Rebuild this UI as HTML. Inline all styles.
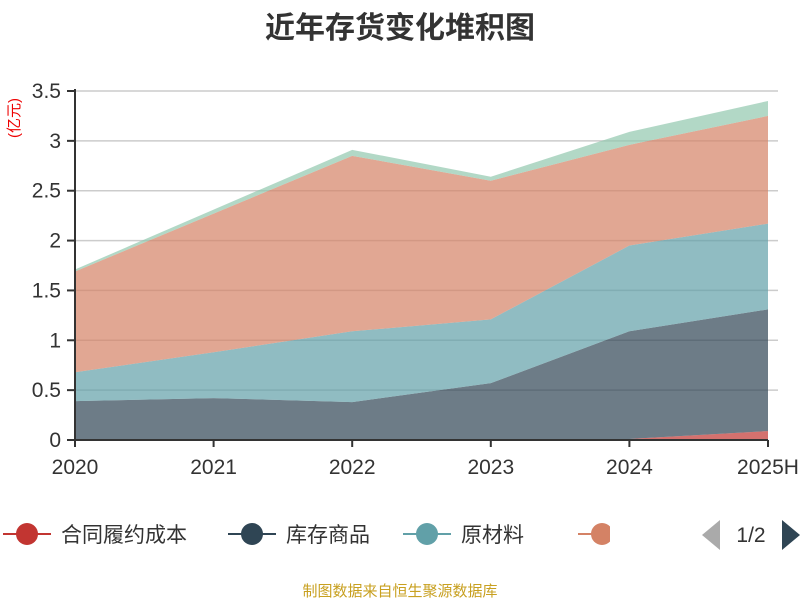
<!DOCTYPE html>
<html><head><meta charset="utf-8"><style>
body{margin:0;background:#fff;width:800px;height:600px;overflow:hidden}
svg text{font-family:"Liberation Sans","Noto Sans CJK SC",sans-serif}
</style></head><body>
<svg id="c" width="800" height="600" xmlns="http://www.w3.org/2000/svg">
<text x="400" y="38" text-anchor="middle" font-size="30" font-weight="bold" fill="#333">近年存货变化堆积图</text>
<text transform="translate(19,118) rotate(-90)" text-anchor="middle" font-size="15" fill="#e00">(亿元)</text>
<g id="grid"></g><g id="areas"></g><g id="axes"></g><g id="legend"></g>
<text x="400" y="596" text-anchor="middle" font-size="15" fill="#c8a020">制图数据来自恒生聚源数据库</text>
</svg>
<script>
const categories=["2020","2021","2022","2023","2024","2025H"];
const seriesNames=["合同履约成本","库存商品","原材料","在产品","其他"];
const s0=[0,0,0,0,0.01,0.09];
const s1=[0.39,0.42,0.38,0.57,1.08,1.22];
const s2=[0.29,0.46,0.71,0.64,0.86,0.86];
const s3=[1.01,1.39,1.76,1.39,1.01,1.08];
const s4=[0.02,0.04,0.06,0.04,0.13,0.15];
const yTicks=[0,0.5,1,1.5,2,2.5,3,3.5];
const colors=["#c23531","#2f4554","#61a0a8","#d48265","#91c7ae"];
const NS="http://www.w3.org/2000/svg";
const X0=75,X1=768,Y0=440,Y1=91;
const x=i=>X0+i*(X1-X0)/(categories.length-1);
const y=v=>Y0-v*(Y0-Y1)/3.5;
function mk(t,a,p){const e=document.createElementNS(NS,t);for(const k in a)e.setAttribute(k,a[k]);p.appendChild(e);return e;}
const grid=document.getElementById('grid'),axes=document.getElementById('axes'),areas=document.getElementById('areas'),leg=document.getElementById('legend');
yTicks.forEach(v=>{
 if(v>0){const l=mk('line',{x1:X0,x2:X1+10,y1:y(v),y2:y(v),stroke:'#ccc','stroke-width':1.5},grid);
 
 }
 const tk=mk('line',{x1:X0-8,x2:X0,y1:y(v),y2:y(v),stroke:'#333','stroke-width':2},axes);
 
 
 const t=mk('text',{x:X0-14,y:y(v)+7,'text-anchor':'end','font-size':21,fill:'#333'},axes);t.textContent=v;
 
 
});
const all=[s0,s1,s2,s3,s4];let base=categories.map(()=>0);
all.forEach((s,k)=>{
 const top=base.map((b,i)=>b+s[i]);
 let d='M'+top.map((v,i)=>x(i)+','+y(v)).join('L');
 for(let i=categories.length-1;i>=0;i--)d+='L'+x(i)+','+y(base[i]);
 const p=mk('path',{d:d+'Z',fill:colors[k],'fill-opacity':0.7},areas);
 
 
 base=top;
});
const ax=mk('line',{x1:X0,x2:X1,y1:Y0,y2:Y0,stroke:'#333','stroke-width':2},axes);


const ay=mk('line',{x1:X0,x2:X0,y1:Y1-2,y2:Y0,stroke:'#333','stroke-width':2},axes);


categories.forEach((c,i)=>{
 const tk=mk('line',{x1:x(i),x2:x(i),y1:Y0,y2:Y0+7,stroke:'#333','stroke-width':2},axes);
 
 
 const t=mk('text',{x:x(i),y:Y0+34,'text-anchor':'middle','font-size':21,fill:'#333'},axes);t.textContent=c;
 
 
});
const lx=[3,228,403,578];
for(let k=0;k<4;k++){
 const g=mk('g',{},leg);
 
 
 mk('line',{x1:lx[k],x2:lx[k]+48,y1:534,y2:534,stroke:colors[k],'stroke-width':2},g);
 mk('circle',{cx:lx[k]+24,cy:534,r:11,fill:colors[k]},g);
 const t=mk('text',{x:lx[k]+58,y:542,'font-size':21,fill:'#333'},g);t.textContent=seriesNames[k];
}
const cp=mk('rect',{x:610,y:515,width:90,height:40,fill:'#fff'},leg);
const pa=mk('path',{d:'M720,520L702,535L720,550Z',fill:'#aaa'},leg);


const pt=mk('text',{x:751,y:542,'text-anchor':'middle','font-size':21,fill:'#333'},leg);pt.textContent='1/2';


const pn=mk('path',{d:'M782,520L800,535L782,550Z',fill:'#2f4554'},leg);


</script>
</body></html>
